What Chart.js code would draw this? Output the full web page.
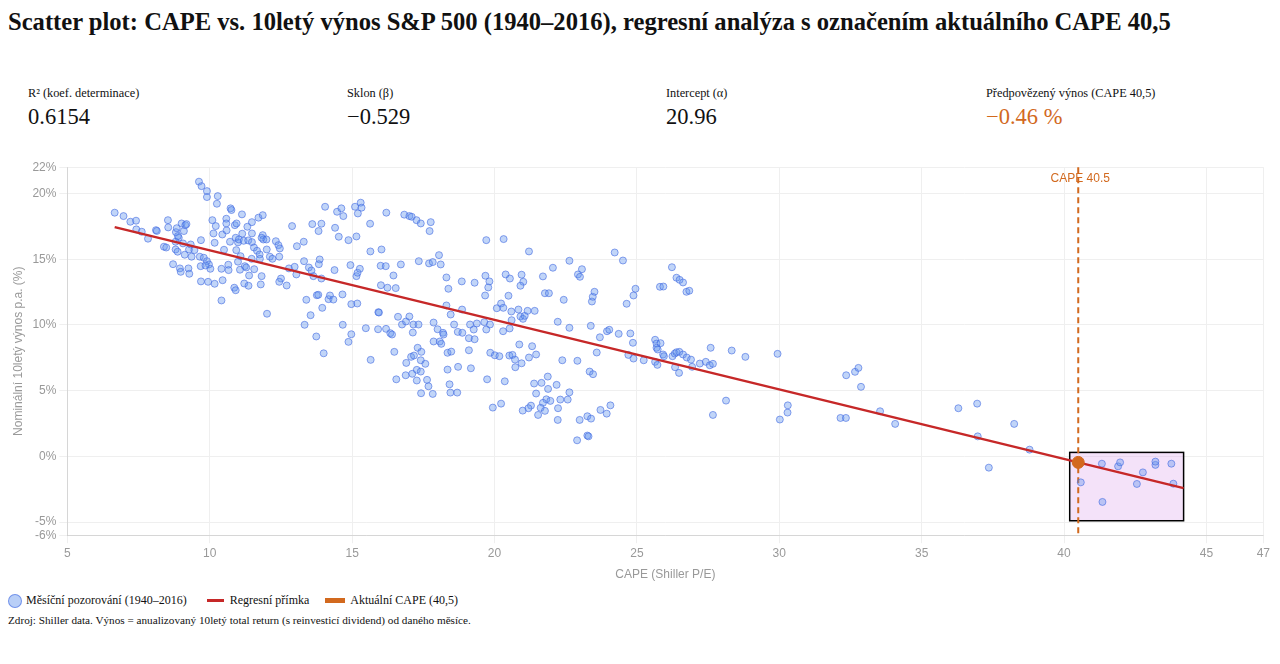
<!DOCTYPE html>
<html lang="cs">
<head>
<meta charset="utf-8">
<script src="https://cdn.jsdelivr.net/npm/chart.js@4.4.1/dist/chart.umd.min.js"></script>
<style>
  html, body { margin:0; padding:0; background:#fff; }
  body { width:1280px; height:664px; overflow:hidden; position:relative;
         font-family:"Liberation Serif","Times New Roman",serif; color:#111; }
  #title { position:absolute; left:8px; top:8px; font-size:24.6px; font-weight:bold; white-space:nowrap; }
  .stat { position:absolute; top:86px; width:320px; }
  .stat .lbl { font-size:12.3px; line-height:14px; }
  .stat .val { font-size:22.5px; line-height:25px; margin-top:4px; }
  #chartWrap { position:absolute; left:7px; top:157px; width:1266px; height:429px; }
  #legend { position:absolute; left:8px; top:593px; font-size:12px; display:flex; align-items:center; white-space:nowrap; }
  #legend .item { display:flex; align-items:center; }
  #note { position:absolute; left:8px; top:614px; font-size:11.2px; white-space:nowrap; }
</style>
</head>
<body>
<div id="title">Scatter plot: CAPE vs. 10letý výnos S&amp;P 500 (1940–2016), regresní analýza s označením aktuálního CAPE 40,5</div>
<div class="stat" style="left:28px"><div class="lbl">R² (koef. determinace)</div><div class="val" id="v1"></div></div>
<div class="stat" style="left:347px"><div class="lbl">Sklon (β)</div><div class="val" id="v2"></div></div>
<div class="stat" style="left:666px"><div class="lbl">Intercept (α)</div><div class="val" id="v3"></div></div>
<div class="stat" style="left:986px"><div class="lbl">Předpovězený výnos (CAPE 40,5)</div><div class="val" id="v4" style="color:#d2691e"></div></div>
<div id="chartWrap"><canvas id="c"></canvas></div>
<div id="legend"></div>
<div id="note">Zdroj: Shiller data. Výnos = anualizovaný 10letý total return (s reinvesticí dividend) od daného měsíce.</div>
<script>
// ---- statistics ----
const r2 = 0.6154;
const slope = -0.529;
const intercept = 20.96;
const currentCape = 40.5;
const predictedReturn = -0.46;

// ---- series labels ----
const seriesLabels = ['Měsíční pozorování (1940–2016)', 'Regresní přímka', 'Aktuální CAPE (40,5)'];

// ---- tick labels ----
const xTicks = [5, 10, 15, 20, 25, 30, 35, 40, 45, 47];
const yTicks = [-6, -5, 0, 5, 10, 15, 20, 22];

// ---- monthly observations: CAPE (x) and 10y return % (y) ----
const capeValues = [
6.66,6.97,7.21,7.41,7.42,7.61,7.83,8.11,8.14,8.39,8.47,8.53,8.54,8.71,8.81,8.84,8.80,8.87,8.91,8.95,
8.98,9.01,9.09,9.14,9.18,9.06,9.12,9.25,9.28,9.27,9.33,9.46,9.36,9.62,9.71,9.90,9.90,10.28,10.25,9.69,
9.65,9.68,9.79,9.90,9.97,10.02,9.85,9.69,9.94,10.17,10.09,10.21,10.13,10.17,10.41,10.45,10.41,10.50,10.44,10.59,
10.58,10.58,10.73,10.76,10.65,10.66,10.71,10.88,10.94,10.91,10.93,11.13,11.14,10.99,11.02,11.19,11.08,10.99,11.23,11.28,
11.06,11.21,11.36,10.86,10.91,11.32,11.35,11.48,11.48,11.48,11.55,11.47,11.38,11.56,11.66,11.71,11.86,11.75,11.76,11.86,
11.88,11.82,11.99,12.00,11.82,11.79,12.01,12.11,12.20,12.32,12.41,12.46,12.44,12.50,12.44,12.70,12.78,12.98,13.04,12.89,
13.06,13.30,13.31,8.80,8.88,
14.05,14.47,14.62,14.69,15.10,15.30,15.33,15.20,13.60,13.92,13.82,14.40,14.53,14.87,15.15,15.63,16.20,16.83,17.01,17.09,
17.26,17.41,17.76,17.72,15.64,16.03,13.86,13.83,13.48,13.57,13.64,13.92,14.38,14.94,15.15,15.19,15.27,16.00,16.18,16.71,
17.34,17.70,17.83,18.05,18.11,16.45,16.01,16.24,16.53,18.31,18.38,18.85,19.30,19.68,19.82,19.78,19.67,19.71,20.32,13.39,
13.76,13.81,14.17,14.22,14.34,14.66,13.95,14.97,15.18,13.54,13.33,13.74,14.67,14.97,15.48,15.92,15.94,15.91,16.19,16.34,
16.40,16.61,16.75,16.89,17.01,17.15,17.33,17.13,17.86,18.00,18.19,18.31,18.46,18.58,18.71,18.86,18.87,19.14,19.38,19.27,
19.64,19.84,19.71,20.08,20.23,20.31,
14.00,14.87,15.65,16.48,16.90,17.07,17.17,17.30,17.43,17.41,17.57,17.27,17.41,16.88,17.11,16.55,17.27,17.63,17.68,17.42,
17.83,18.21,17.86,18.08,18.13,18.35,18.48,18.35,18.72,18.42,18.45,18.69,19.10,19.30,19.10,19.17,19.85,20.01,20.17,19.74,
19.94,20.23,20.36,20.30,
21.21,20.39,20.54,20.95,21.01,20.91,21.70,22.05,22.63,22.93,23.00,23.07,21.77,21.91,22.43,23.42,23.45,23.51,24.22,24.51,
24.95,24.88,24.64,26.23,26.39,26.50,26.62,26.74,26.84,25.81,25.93,20.49,20.59,20.84,20.91,21.00,21.06,21.16,21.41,20.60,
20.53,22.22,22.63,23.38,23.70,23.95,24.03,24.36,24.77,24.86,25.64,25.69,25.83,25.69,25.73,25.92,25.95,26.25,26.33,26.39,
26.49,26.62,26.75,26.90,27.21,27.42,27.56,27.67,27.59,26.94,26.34,26.48,25.64,25.72,25.24,24.88,24.70,23.59,20.52,20.63,
20.72,20.87,21.32,21.21,21.46,20.73,20.95,22.38,22.91,23.34,23.46,21.87,21.39,21.65,22.18,21.46,21.88,22.63,21.82,21.96,
21.70,21.62,22.31,22.57,22.23,21.28,21.19,20.99,21.77,21.53,22.22,22.99,23.26,23.39,23.72,23.94,24.07,23.26,23.30,22.90,
27.67,
28.33,28.81,29.94,28.13,30.02,30.29,30.30,32.35,32.66,32.78,32.87,32.15,32.34,33.54,34.07,36.29,36.95,36.97,38.25,38.79,
37.36,
41.33,40.59,41.35,41.90,41.97,42.56,42.77,43.21,43.21,43.77,43.84
];
const returnValues = [
18.54,18.28,17.85,17.93,17.27,17.09,16.56,17.21,17.15,15.95,15.89,17.97,17.42,14.62,17.06,17.36,15.74,15.57,16.63,14.30,
14.04,17.72,17.14,17.59,17.67,16.20,15.34,14.30,13.89,15.74,16.12,15.69,15.19,20.90,20.56,20.18,19.73,19.80,19.22,16.45,
15.19,14.47,15.11,14.85,14.60,14.27,14.52,13.31,13.28,13.13,17.97,17.52,16.96,16.25,14.27,13.40,11.86,15.72,16.88,17.19,
18.08,17.72,18.87,18.74,14.58,14.17,16.33,17.59,17.72,16.63,15.69,18.41,16.94,16.28,16.50,16.40,15.23,14.81,14.47,14.37,
14.20,13.15,12.98,12.83,12.64,17.47,16.43,17.82,16.96,16.30,15.89,15.03,13.76,14.24,15.64,18.16,18.35,15.36,15.03,16.83,
16.50,16.63,16.50,15.74,13.71,13.08,10.85,15.19,15.03,16.37,16.07,15.82,15.19,13.53,13.28,13.00,14.30,14.42,13.84,17.52,
15.99,16.33,14.85,16.33,16.76,
18.99,18.61,18.87,18.28,18.99,19.30,18.92,18.48,17.67,17.70,17.14,17.39,16.71,16.45,16.73,17.70,18.54,18.39,18.28,18.23,
17.97,17.72,17.82,17.14,15.59,15.74,14.98,14.62,14.37,14.14,13.71,13.53,14.17,14.55,13.71,13.97,14.27,14.50,14.47,14.60,
14.85,14.68,14.78,15.31,14.60,13.76,13.02,12.83,12.80,13.61,12.75,13.31,13.21,13.74,13.31,12.85,12.24,16.45,16.53,11.91,
12.26,12.29,11.96,12.24,11.93,12.32,11.30,11.58,11.63,10.74,10.01,9.12,10.01,9.29,9.75,10.97,10.94,9.67,9.70,9.37,
9.27,10.62,10.03,10.26,10.64,10.03,10.03,9.42,10.18,9.67,9.40,11.48,10.79,10.03,9.47,11.17,9.40,10.03,10.11,9.65,
10.21,10.03,9.65,11.27,11.63,11.30,
7.84,8.71,7.34,7.95,7.11,7.57,7.67,8.26,7.95,7.31,7.04,6.58,6.45,6.17,6.28,5.86,5.77,5.82,5.33,4.80,
4.75,9.27,8.74,8.74,8.56,7.88,7.97,6.60,6.81,5.48,4.85,4.85,8.99,8.91,8.07,6.70,7.88,7.69,7.62,5.86,
3.71,4.01,5.71,9.52,
15.59,13.84,13.53,13.82,13.28,12.98,13.69,14.35,14.88,13.84,13.66,14.24,12.41,12.41,11.91,11.78,12.14,12.52,15.51,14.90,
12.75,12.24,11.61,14.39,13.59,13.43,13.23,12.52,12.60,12.90,12.92,12.22,11.02,11.17,10.64,10.46,10.69,11.07,11.07,10.36,
9.73,10.24,9.78,9.93,9.06,9.52,9.63,9.32,9.35,8.64,8.87,8.58,8.61,8.26,8.13,7.75,7.62,7.62,7.82,7.92,
7.95,7.75,7.52,7.36,7.06,7.19,6.93,7.04,8.26,6.81,6.78,6.35,7.19,6.96,7.31,7.44,7.72,7.90,7.67,7.72,
7.36,8.51,8.38,7.52,7.75,6.78,7.08,7.31,7.27,6.45,6.25,6.07,5.54,5.59,5.44,4.78,5.13,4.87,4.34,4.22,
4.07,3.69,4.32,4.32,3.66,3.86,3.66,3.48,3.46,3.15,2.77,2.77,3.05,2.87,3.53,3.25,3.88,1.58,1.52,1.22,
3.15,
8.05,7.57,7.80,4.24,2.80,3.33,3.88,6.17,6.43,6.73,5.29,2.92,2.92,3.43,2.47,3.66,4.01,1.52,2.47,0.51,
-0.86,
-0.56,-1.98,-3.47,-0.76,-0.46,-2.10,-1.22,-0.65,-0.40,-0.56,-2.08
];

// ---- regression line endpoints ----
const regressionX = [6.66, 44.2];
const regressionY = [17.44, -2.42];

// ---- highlighted high-CAPE region ----
const highlightX = [40.2, 44.2];
const highlightY = [-4.9, 0.3];

const ORANGE = '#d2691e';
const RED = '#c62828';

// stats cards
const fmt = (v, d) => (v < 0 ? '−' : '') + Math.abs(v).toFixed(d);
document.getElementById('v1').textContent = fmt(r2, 4);
document.getElementById('v2').textContent = fmt(slope, 3);
document.getElementById('v3').textContent = fmt(intercept, 2);
document.getElementById('v4').textContent = fmt(predictedReturn, 2) + ' %';

// legend (HTML)
const legend = document.getElementById('legend');
legend.innerHTML =
  '<span class="item"><span style="display:inline-block;width:12px;height:12px;border-radius:50%;background:rgba(100,149,237,0.45);border:1px solid rgba(65,105,225,0.6);margin-right:4px"></span>' + seriesLabels[0] + '</span>' +
  '<span class="item" style="margin-left:20px"><span style="display:inline-block;width:17px;height:3px;background:' + RED + ';margin-right:6px"></span>' + seriesLabels[1] + '</span>' +
  '<span class="item" style="margin-left:16px"><span style="display:inline-block;width:20px;height:5px;background:' + ORANGE + ';margin-right:5px"></span>' + seriesLabels[2] + '</span>';

const annotPlugin = {
  id: 'annot',
  beforeDatasetsDraw(chart) {
    const { ctx, chartArea } = chart;
    const x = chart.scales.x, y = chart.scales.y;
    const l = x.getPixelForValue(highlightX[0]), r = x.getPixelForValue(highlightX[1]);
    const t = y.getPixelForValue(highlightY[1]), b = y.getPixelForValue(highlightY[0]);
    ctx.save();
    ctx.fillStyle = 'rgba(218,160,235,0.3)';
    ctx.fillRect(l, t, r - l, b - t);
    ctx.strokeStyle = '#000';
    ctx.lineWidth = 1.5;
    ctx.strokeRect(l, t, r - l, b - t);
    const vx = x.getPixelForValue(currentCape);
    ctx.setLineDash([6, 4]);
    ctx.strokeStyle = ORANGE;
    ctx.lineWidth = 2;
    ctx.beginPath();
    ctx.moveTo(vx, chartArea.top);
    ctx.lineTo(vx, chartArea.bottom);
    ctx.stroke();
    ctx.setLineDash([]);
    ctx.fillStyle = ORANGE;
    ctx.font = '12px "Liberation Sans", Arial, sans-serif';
    ctx.textAlign = 'center';
    ctx.textBaseline = 'middle';
    ctx.fillText('CAPE ' + currentCape.toFixed(1), vx + 2, chartArea.top + 11);
    ctx.restore();
  }
};

new Chart(document.getElementById('c'), {
  type: 'scatter',
  data: {
    datasets: [
      {
        label: seriesLabels[0],
        data: capeValues.map((v, i) => ({ x: v, y: returnValues[i] })),
        backgroundColor: 'rgba(100,149,237,0.4)',
        borderColor: 'rgba(65,105,225,0.6)',
        borderWidth: 1,
        pointRadius: 3.5,
        order: 3
      },
      {
        label: seriesLabels[1],
        type: 'line',
        data: regressionX.map((v, i) => ({ x: v, y: regressionY[i] })),
        borderColor: RED,
        borderWidth: 2.5,
        pointRadius: 0,
        fill: false,
        order: 2
      },
      {
        label: seriesLabels[2],
        data: [{ x: currentCape, y: predictedReturn }],
        backgroundColor: ORANGE,
        borderColor: ORANGE,
        pointRadius: 6,
        order: 1
      }
    ]
  },
  options: {
    responsive: true,
    maintainAspectRatio: false,
    animation: false,
    plugins: { legend: { display: false }, tooltip: { enabled: false } },
    scales: {
      x: {
        type: 'linear', min: xTicks[0], max: xTicks[xTicks.length - 1],
        afterBuildTicks: s => { s.ticks = xTicks.map(v => ({ value: v })); },
        ticks: { color: '#999', font: { size: 12 } },
        grid: { color: '#efefef' },
        title: { display: true, text: 'CAPE (Shiller P/E)', color: '#999', font: { size: 12 } }
      },
      y: {
        min: yTicks[0], max: yTicks[yTicks.length - 1],
        afterBuildTicks: s => { s.ticks = yTicks.map(v => ({ value: v })); },
        ticks: { color: '#999', font: { size: 12 }, callback: v => v + '%' },
        grid: { color: '#efefef' },
        title: { display: true, text: 'Nominální 10letý výnos p.a. (%)', color: '#999', font: { size: 12 } }
      }
    }
  },
  plugins: [annotPlugin]
});
</script>
</body>
</html>
